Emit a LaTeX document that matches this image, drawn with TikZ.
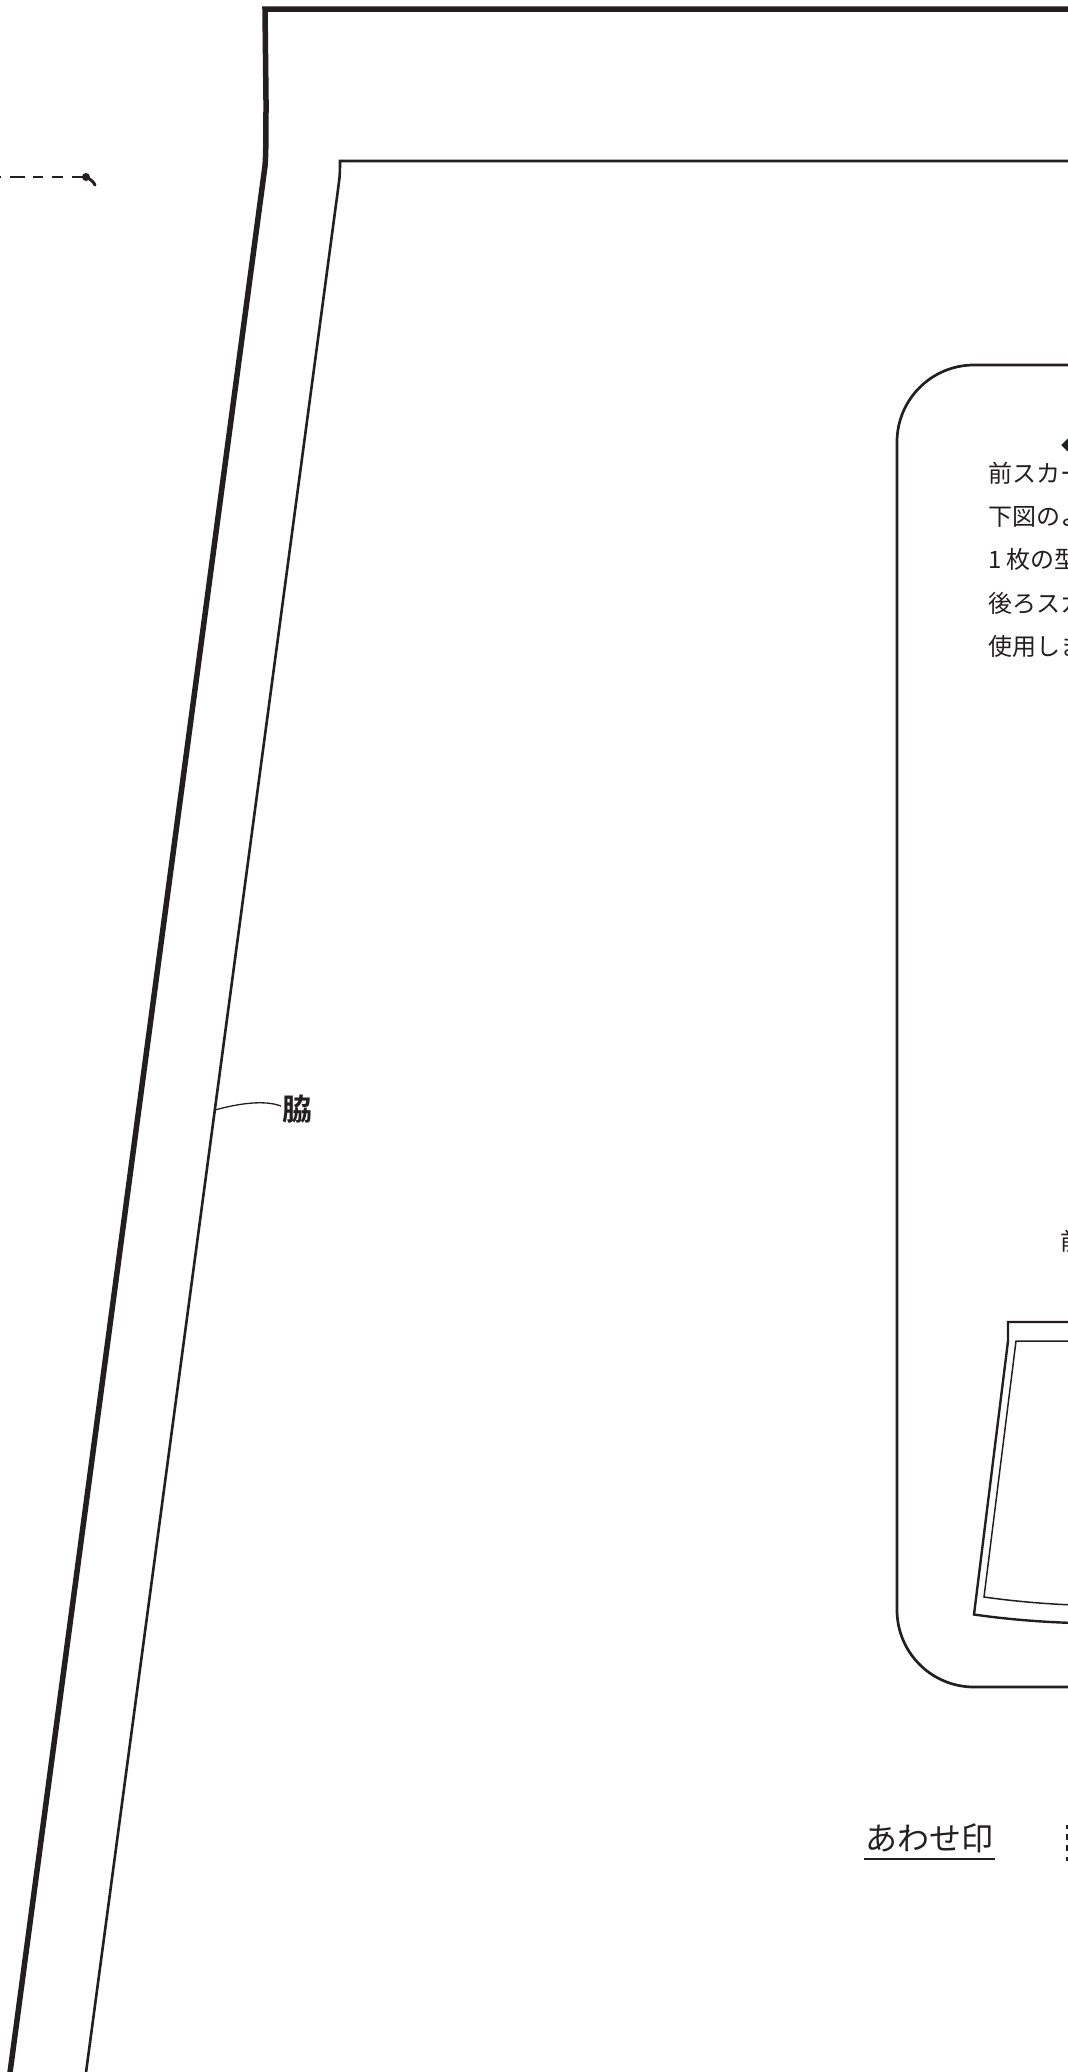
\documentclass[tikz,border=0pt]{standalone}
\usepackage{fontspec}
\setmainfont{Noto Sans CJK JP}
\newfontfamily\jpbold{Noto Sans CJK JP Bold}
\definecolor{ink}{HTML}{231F20}
\tikzset{
  thickcut/.style={draw=ink,line width=5.5pt,line join=miter},
  thincut/.style={draw=ink,line width=2.6pt,line join=miter},
  pane/.style={draw=ink,line width=2.7pt},
  smallcut/.style={draw=ink,line width=2.4pt,line join=miter},
  finecut/.style={draw=ink,line width=1.5pt,line join=miter},
  note/.style={anchor=base west,inner sep=0pt,text=ink,font=\fontsize{24pt}{24pt}\selectfont},
}
\begin{document}
\begin{tikzpicture}[x=1pt,y=-1pt]
\path[use as bounding box,fill=white] (0,0) rectangle (1068,2072);
\begin{scope}
\clip (0,0) rectangle (1068,2072);
% outer
\draw[thickcut] (1075,9) -- (265,9) -- (266,100) .. controls (266,130) and (266,155) .. (265,166) -- (9,2080);
% inner
\draw[thincut] (1075,161) -- (340,161) .. controls (340,168) and (340,175) .. (339,182) -- (85,2080);
% panel
\draw[pane] (1075,365) -- (974,365) .. controls (931.5,365) and (897,399.5) .. (897,442) -- (897,1610) .. controls (897,1652.5) and (931.5,1687) .. (974,1687) -- (1075,1687);
% mini pattern
\draw[smallcut] (1075,1322) -- (1008,1322) -- (1008,1341) -- (974,1614.5) .. controls (1005,1619) and (1040,1622) .. (1075,1623);
\draw[finecut] (1075,1341) -- (1016,1341) -- (984,1597) .. controls (1012,1601) and (1045,1604) .. (1075,1605);
% notes
\node[note] (l1) at (988,482.5) {前スカート};
\node[note] (l2) at (988,525.5) {下図のよ};
\node[note] (l3) at (988,568.5) {1 枚の型};
\node[note] (l4) at (988,612) {後ろスカ};
\node[note] (l5) at (988,655) {使用しま};
\node[note] (l6) at (1060,1250) {前};
\node[note,font=\fontsize{13pt}{13pt}\selectfont] (d) at (1061,450) {◆};
% legend
\node[note,font=\fontsize{32pt}{32pt}\selectfont] (aw) at (865,1850) {あわせ印};
\coordinate (u1) at (864,1859);
\coordinate (u2) at (995,1859);
\draw[draw=ink,line width=2.8pt] (u1) -- (u2);
\coordinate (t1) at (1067,1825);
\coordinate (t2) at (1067,1862);
\draw[draw=ink,line width=1.6pt,dash pattern=on 4pt off 5pt on 6pt off 5pt on 6pt off 6pt on 4pt off 5pt] (t1) -- (t2);
% side label
\node[note,font=\jpbold\fontsize{30pt}{30pt}\selectfont] (wk) at (282,1120) {脇};
\coordinate (wa) at (215,1110);
\draw[draw=ink,line width=1.3pt] (wa) .. controls (240,1103) and (265,1100) .. (281,1106);
% dashed line
\coordinate (ds) at (0,177);
\coordinate (dd) at (86,177);
\coordinate (de) at (95,185);
\draw[draw=ink,line width=2.4pt,dash pattern=on 14pt off 9pt on 11pt off 9pt on 10pt off 8pt on 15pt off 9pt on 3pt off 9pt] (dd) -- (ds);
\fill[ink] (dd) circle (4);
\draw[draw=ink,line width=3pt,line cap=round] (dd) .. controls (90,179) and (93,181) .. (de);
\end{scope}
\end{tikzpicture}
\end{document}
